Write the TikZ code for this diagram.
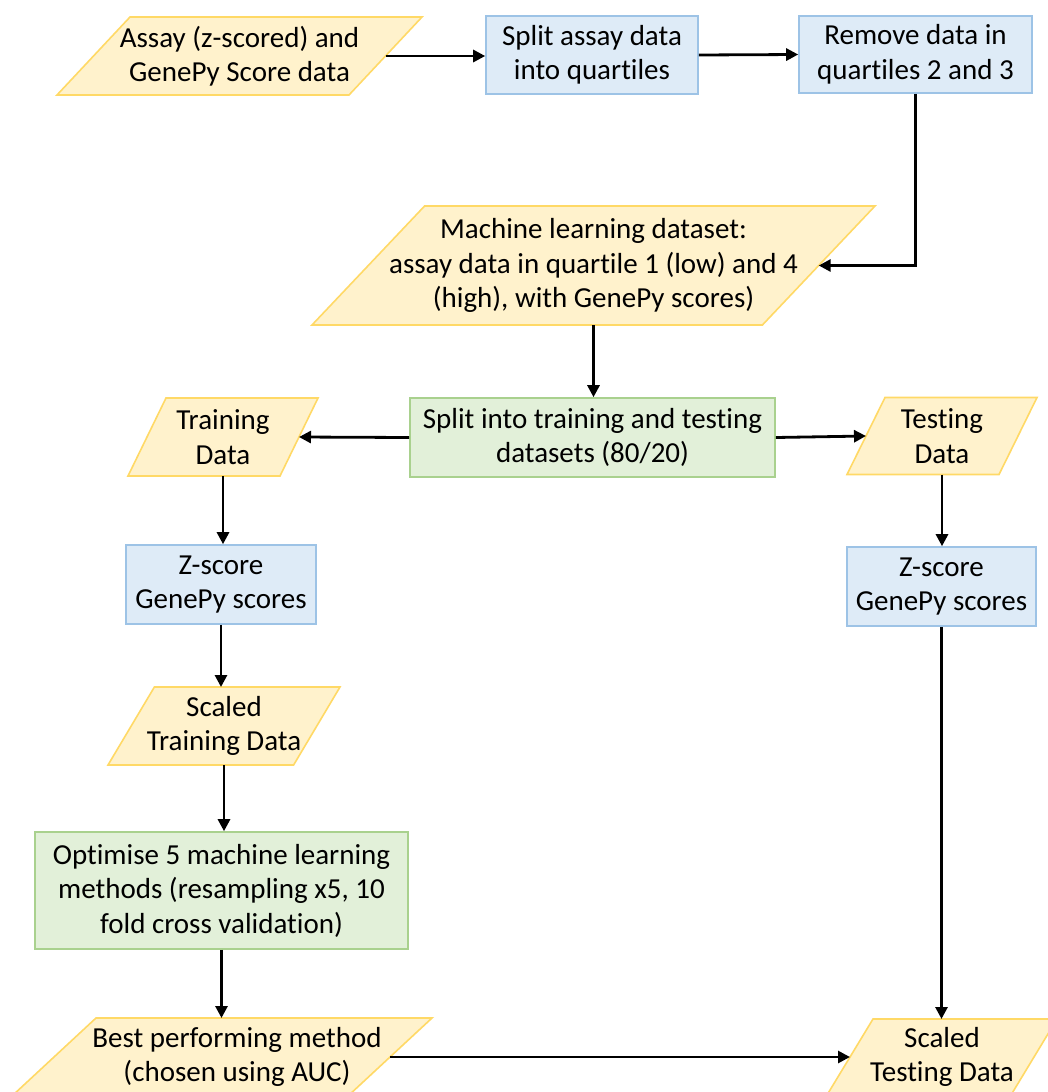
\documentclass[tikz,border=0pt]{standalone}
\usepackage{fontspec}
\setmainfont{Carlito}[Ligatures={NoCommon}]
\usetikzlibrary{arrows.meta,calc}

\definecolor{dataFill}{HTML}{FFF2CC}
\definecolor{dataLine}{HTML}{FFD966}
\definecolor{procFill}{HTML}{DEEBF7}
\definecolor{procLine}{HTML}{9DC3E6}
\definecolor{stepFill}{HTML}{E2F0D9}
\definecolor{stepLine}{HTML}{A9D18E}

\newcommand\lblfont{\fontsize{29}{34.5}\selectfont}

\tikzset{
  datashape/.style={fill=dataFill, draw=dataLine, line width=1.6pt, line join=miter},
  lbl/.style={align=center, font=\lblfont, inner sep=0pt, text=black},
  procbox/.style={rectangle, fill=procFill, draw=procLine, line width=1.6pt,
    align=center, font=\lblfont, inner sep=0pt},
  stepbox/.style={rectangle, fill=stepFill, draw=stepLine, line width=1.6pt,
    align=center, font=\lblfont, inner sep=0pt},
  flow/.style={line width=2.8pt, draw=black, -{Triangle[length=12pt,width=12pt]}},
}

% input/output shape: name, centre x, centre y, total width, height, text
\newcommand\datanode[7][]{%
  \pgfmathsetmacro\dnL{#3-#5/2}%
  \pgfmathsetmacro\dnR{#3+#5/2}%
  \pgfmathsetmacro\dnS{#5/5}%
  \pgfmathsetmacro\dnT{#4-#6/2}%
  \pgfmathsetmacro\dnB{#4+#6/2}%
  \draw[datashape] (\dnL,\dnB) -- ({\dnR-\dnS},\dnB) -- (\dnR,\dnT)
    -- ({\dnL+\dnS},\dnT) -- cycle;
  \node[lbl,#1] (#2) at (#3,#4) {#7};
  \coordinate (#2-n) at (#3,\dnT);
  \coordinate (#2-s) at (#3,\dnB);
  \coordinate (#2-e) at ({#3+0.4*#5},#4);
  \coordinate (#2-w) at ({#3-0.4*#5},#4);
}

\begin{document}
\begin{tikzpicture}[x=1pt,y=-1pt]
  \useasboundingbox (0,0) rectangle (1048,1092);
  \fill[white] (0,0) rectangle (1048,1092);
  \clip (0,0) rectangle (1048,1092);

  % top row
  \datanode{d1}{239.5}{56}{365}{78}{Assay (z-scored) and\\GenePy Score data}
  \node[procbox, minimum width=212pt, minimum height=78pt] (b1) at (592,55)
    {Split assay data\\into quartiles};
  \node[procbox, minimum width=233pt, minimum height=77pt] (b2) at (915.5,54.5)
    {Remove data in\\quartiles 2 and 3};

  % machine learning dataset
  \datanode{d2}{593.5}{265.5}{563}{119}{Machine learning dataset:\\assay data in quartile 1 (low) and 4\\(high), with GenePy scores)}

  % train / test split
  \node[stepbox, minimum width=365pt, minimum height=79pt] (g1) at (592.5,437.5)
    {Split into training and testing\\datasets (80/20)};
  \datanode{d3}{223}{437}{190}{78}{Training\\Data}
  \datanode{d4}{942}{436}{190}{77}{Testing\\Data}

  % scaling
  \node[procbox, minimum width=190pt, minimum height=79pt] (b3) at (221,584.5)
    {Z-score\\GenePy scores};
  \node[procbox, minimum width=189pt, minimum height=79pt] (b4) at (941.5,586.5)
    {Z-score\\GenePy scores};
  \datanode{d5}{224}{726}{232}{78}{Scaled\\Training Data}

  % model selection
  \node[stepbox, minimum width=373pt, minimum height=117pt] (g2) at (221.5,890.5)
    {Optimise 5 machine learning\\methods (resampling x5, 10\\fold cross validation)};
  \datanode[xshift=15pt]{d6}{222}{1057}{420}{78}{Best performing method\\(chosen using AUC)}
  \datanode{d7}{942}{1057}{230}{76}{Scaled\\Testing Data}

  % connectors
  \draw[flow] (d1-e) -- (d1-e -| b1.west);
  \draw[flow] (b1.east) -- (b2.west);
  \draw[flow] (b2.south) |- (d2-e);
  \draw[flow] (d2-s) -- (d2-s |- g1.north);
  \draw[flow] (g1.west) -- (d3-e);
  \draw[flow] (g1.east) -- (d4-w);
  \draw[flow] (d3-s) -- (d3-s |- b3.north);
  \draw[flow] (d4-s) -- (d4-s |- b4.north);
  \draw[flow] (b3.south) -- (b3.south |- d5-n);
  \draw[flow] (d5-s) -- (d5-s |- g2.north);
  \draw[flow] (g2.south) -- (g2.south |- d6-n);
  \draw[flow] (b4.south) -- (b4.south |- d7-n);
  \draw[flow] (d6-e) -- (d7-w);
\end{tikzpicture}
\end{document}
